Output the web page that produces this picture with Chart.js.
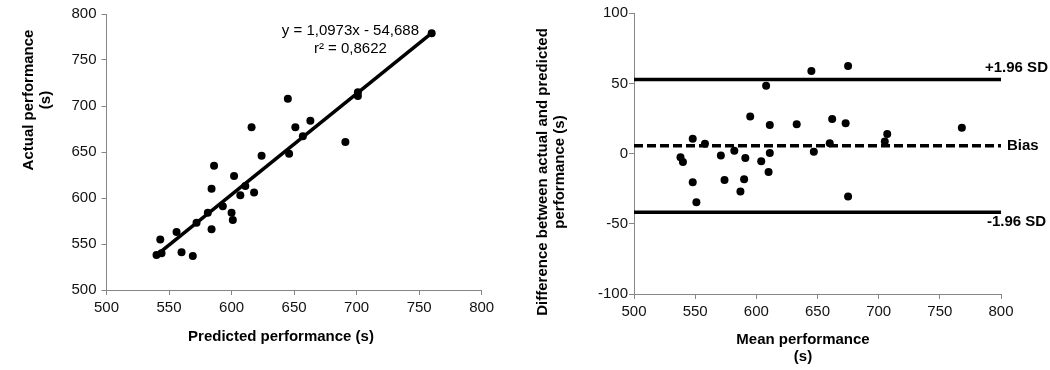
<!DOCTYPE html>
<html>
<head>
<meta charset="utf-8">
<script src="https://cdn.jsdelivr.net/npm/chart.js@4.4.0/dist/chart.umd.min.js"></script>
<style>
  html, body { margin: 0; padding: 0; background: #fff; }
  #wrap { position: relative; width: 1050px; height: 370px; }
  canvas { position: absolute; top: 0; }
  #left { left: 0; }
  #right { left: 520px; }
</style>
</head>
<body>
<div id="wrap">
  <canvas id="left" width="520" height="370"></canvas>
  <canvas id="right" width="530" height="370"></canvas>
</div>
<script>
// left panel - predicted vs actual performance (s)
var predicted = [540, 544, 543, 556, 560, 569, 572, 581, 584, 584, 586, 593, 600, 601, 602, 607, 611, 618, 624, 646, 645, 616, 651, 663, 657, 691, 701, 701, 760];
var actual    = [538, 540, 555, 563, 541, 537, 573, 584, 566, 610, 635, 591, 584, 576, 624, 603, 613, 606, 646, 648, 708, 677, 677, 684, 667, 661, 715, 711, 779];
var trendX = [540, 760];
var trendY = [537.9, 779.3];
var equation = ['y = 1,0973x - 54,688', 'r\u00B2 = 0,8622'];
var axisTicks = [500, 550, 600, 650, 700, 750, 800];

// right panel - Bland-Altman
var meanPerf = [645, 675, 608, 595, 611, 633, 662, 673, 768, 707, 705, 660, 548, 558, 582, 647, 611, 571, 538, 540, 591, 604, 610, 574, 590, 548, 587, 551, 675];
var diffPerf = [58.9, 62.5, 48.4, 26.4, 20.4, 21, 24.7, 21.7, 18.5, 14, 8.6, 7.4, 10.7, 7.1, 2.1, 1.4, 0.5, -1.4, -2.6, -5.9, -3.1, -5.4, -13, -18.7, -18.2, -20.4, -27, -34.6, -30.6];
var bias = 5.6;
var upperLoA = 52.9;
var lowerLoA = -41.7;
var diffTicks = [-100, -50, 0, 50, 100];

var FONT = "'Liberation Sans', Arial, sans-serif";
var AXIS = '#868686';
var TITLE = 'bold 15px ' + FONT;

function pts(xs, ys) {
  return xs.map(function (x, i) { return { x: x, y: ys[i] }; });
}

function drawText(ctx, text, x, y, font, align, rotate) {
  ctx.save();
  ctx.font = font;
  ctx.fillStyle = '#000';
  ctx.textAlign = align || 'center';
  ctx.textBaseline = 'middle';
  ctx.translate(x, y);
  if (rotate) ctx.rotate(-Math.PI / 2);
  ctx.fillText(text, 0, 0);
  ctx.restore();
}

function axisOpts(min, max, step, fit, pad) {
  return {
    type: 'linear',
    min: min,
    max: max,
    afterFit: fit,
    ticks: { stepSize: step, color: '#111', padding: pad, font: { family: FONT, size: 15 } },
    grid: { drawOnChartArea: false, drawTicks: true, tickLength: 5, color: AXIS },
    border: { color: AXIS, width: 1 }
  };
}

Chart.defaults.animation = false;
Chart.defaults.plugins.legend.display = false;
Chart.defaults.plugins.tooltip.enabled = false;

var leftX = axisOpts(axisTicks[0], axisTicks[axisTicks.length - 1], 50, function (s) { s.height = 80; }, 4);
var leftY = axisOpts(axisTicks[0], axisTicks[axisTicks.length - 1], 50, function (s) { s.width = 106.5; }, 5);

new Chart(document.getElementById('left'), {
  type: 'scatter',
  data: {
    datasets: [{
      data: pts(predicted, actual),
      pointRadius: 4,
      pointBackgroundColor: '#000',
      pointBorderWidth: 0
    }, {
      data: pts(trendX, trendY),
      showLine: true,
      borderColor: '#000',
      borderWidth: 3.5,
      pointRadius: 0
    }]
  },
  options: {
    responsive: false,
    layout: { padding: { top: 10, right: 38.3, left: 0, bottom: 0 } },
    scales: { x: leftX, y: leftY }
  },
  plugins: [{
    id: 'leftText',
    afterDraw: function (chart) {
      var ctx = chart.ctx, xs = chart.scales.x, ys = chart.scales.y;
      var ex = xs.getPixelForValue(695);
      drawText(ctx, equation[0], ex, ys.getPixelForValue(781.5), '15px ' + FONT);
      drawText(ctx, equation[1], ex, ys.getPixelForValue(762), '15px ' + FONT);
      drawText(ctx, 'Actual performance', 29, 100, TITLE, 'center', true);
      drawText(ctx, '(s)', 46, 100, TITLE, 'center', true);
      drawText(ctx, 'Predicted performance (s)', 281, 337, TITLE);
    }
  }]
});

var rightX = axisOpts(500, 800, 50, function (s) { s.height = 76; }, 4);
var rightY = axisOpts(diffTicks[0], diffTicks[diffTicks.length - 1], 50, function (s) { s.width = 114; }, 1);

function hline(v, dash) {
  return {
    data: [{ x: 500, y: v }, { x: 800, y: v }],
    showLine: true,
    borderColor: '#000',
    borderWidth: 3.5,
    borderDash: dash,
    pointRadius: 0
  };
}

new Chart(document.getElementById('right'), {
  type: 'scatter',
  data: {
    datasets: [{
      data: pts(meanPerf, diffPerf),
      pointRadius: 4,
      pointBackgroundColor: '#000',
      pointBorderWidth: 0
    },
    hline(upperLoA, []),
    hline(bias, [9, 4]),
    hline(lowerLoA, [])]
  },
  options: {
    responsive: false,
    layout: { padding: { top: 13.3, right: 49, left: 0, bottom: 0 } },
    scales: { x: rightX, y: rightY }
  },
  plugins: [{
    id: 'rightText',
    afterDraw: function (chart) {
      var ctx = chart.ctx, xs = chart.scales.x, ys = chart.scales.y;
      var endX = xs.getPixelForValue(800);
      var bold = 'bold 15px ' + FONT;
      drawText(ctx, '+1.96 SD', endX - 16, ys.getPixelForValue(upperLoA) - 12, bold, 'left');
      drawText(ctx, 'Bias', endX + 6, ys.getPixelForValue(bias), bold, 'left');
      drawText(ctx, '-1.96 SD', endX - 14, ys.getPixelForValue(lowerLoA) + 10, bold, 'left');
      drawText(ctx, 'Difference between actual and predicted', 23, 172, TITLE, 'center', true);
      drawText(ctx, 'performance (s)', 40, 172, TITLE, 'center', true);
      drawText(ctx, 'Mean performance', 283, 340, TITLE);
      drawText(ctx, '(s)', 283, 357, TITLE);
    }
  }]
});
</script>
</body>
</html>
